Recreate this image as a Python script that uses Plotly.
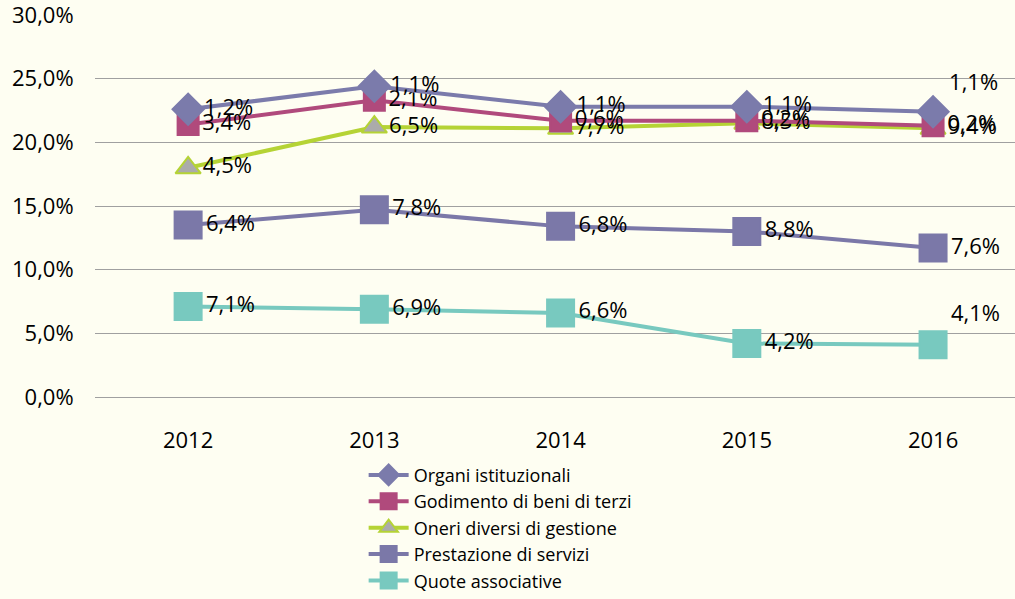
import plotly.graph_objects as go

years = ["2012", "2013", "2014", "2015", "2016"]

# valori delle singole voci (%), la serie e' impilata come nel grafico originale
quote_associative = [7.1, 6.9, 6.6, 4.2, 4.1]
prestazione_servizi = [6.4, 7.8, 6.8, 8.8, 7.6]
oneri_diversi = [4.5, 6.5, 7.7, 8.5, 9.4]
godimento_beni = [3.4, 2.1, 0.6, 0.2, 0.2]
organi_istituzionali = [1.2, 1.1, 1.1, 1.1, 1.1]


def lab(vals):
    return [f"{v:.1f}".replace(".", ",") + "%" for v in vals]


FONT = "Open Sans"
BG = "#FEFEF2"
last_up = ["middle right"] * 4 + ["top right"]

series = [
    ("Quote associative", quote_associative, "#78C9BF", "#78C9BF", "square", 27, last_up),
    ("Prestazione di servizi", prestazione_servizi, "#7B78A8", "#7B78A8", "square", 27, None),
    ("Oneri diversi di gestione", oneri_diversi, "#B5D335", "#ABABAB", "triangle-up", 22, None),
    ("Godimento di beni di terzi", godimento_beni, "#B04A7C", "#B04A7C", "square", 21, None),
    ("Organi istituzionali", organi_istituzionali, "#7B7BAB", "#7B7BAB", "diamond", 24, last_up),
]

fig = go.Figure()
for name, vals, lc, mc, sym, size, tpos in series:
    fig.add_trace(go.Scatter(
        x=years, y=vals, name=name, stackgroup="one", fill="none",
        mode="lines+markers+text",
        line=dict(color=lc, width=4),
        marker=dict(symbol=sym, size=size, color=mc,
                    line=dict(color=lc if sym == "triangle-up" else mc, width=2)),
        text=lab(vals), textposition=tpos or "middle right",
        textfont=dict(family=FONT, size=22, color="black"),
        cliponaxis=False,
    ))

fig.update_layout(
    width=1015, height=599,
    paper_bgcolor=BG, plot_bgcolor=BG,
    margin=dict(l=95, r=0, t=15, b=202),
    font=dict(family=FONT, size=22, color="black"),
    separators=",.",
    showlegend=True,
    legend=dict(x=0.292, y=-0.528, xanchor="left", yanchor="bottom",
                traceorder="reversed", bgcolor="rgba(0,0,0,0)",
                font=dict(family=FONT, size=18), tracegroupgap=0,
                itemwidth=40),
)
# tacche dello stesso colore dello sfondo, solo per distanziare le etichette
fig.update_xaxes(range=[-0.5, 4.44], showgrid=False, showline=False,
                 ticks="outside", ticklen=24, tickcolor=BG,
                 tickfont=dict(size=22), automargin=False)
fig.update_yaxes(range=[0, 30], dtick=5, tickformat=".1f", ticksuffix="%",
                 showgrid=True, gridcolor="#A0A0A0", gridwidth=1,
                 zeroline=True, zerolinecolor="#A0A0A0", zerolinewidth=1,
                 showline=False, ticks="outside", ticklen=16, tickcolor=BG,
                 ticklabeloverflow="allow", automargin=False,
                 tickfont=dict(size=22))

# la pagina ha un margine di default di 8px sul body: lo tolgo
fig.write_html("out.html", config={"displayModeBar": False},
               post_script="document.body.style.margin='0';")
